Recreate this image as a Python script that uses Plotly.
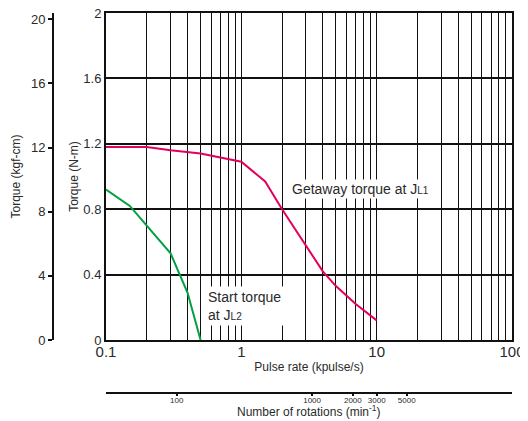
import math
import plotly.graph_objects as go

# Data
getaway_x = [0.1, 0.2, 0.3, 0.5, 1, 1.5, 2, 3, 4, 5, 7, 10]
getaway_y = [1.18, 1.18, 1.16, 1.14, 1.09, 0.97, 0.80, 0.58, 0.42, 0.33, 0.22, 0.12]
start_x = [0.1, 0.15, 0.2, 0.3, 0.4, 0.5]
start_y = [0.92, 0.82, 0.70, 0.53, 0.29, 0.0]

x_grid_vals = [m * 10 ** e for e in (-1, 0, 1) for m in range(1, 10)] + [100]
x_tick_labels = {0.1: "0.1", 1: "1", 10: "10", 100: "100"}
y_ticks = [0, 0.4, 0.8, 1.2, 1.6, 2]
kgf_ticks = [0, 4, 8, 12, 16, 20]
rpm_ticks = [100, 1000, 2000, 3000, 5000]

NM_TO_KGFCM = 10.197
RPM_PER_KPPS = 300

# page body has an 8px margin, so figure is sized to fit the visible window
OFF = 8
W, H = 528 - OFF, 421 - OFF
ML, MR, MT, MB = 0, 16, 13 - OFF, 0
plot_left, plot_bottom, rpm_line = 106 - OFF, 340 - OFF, 393 - OFF
pw = W - ML - MR
ph = H - MT - MB
x_dom0 = (plot_left - ML) / pw
y_dom0 = (H - MB - plot_bottom) / ph

font = "Liberation Sans, Arial, sans-serif"
tc = "#2a2a2a"

fig = go.Figure()
fig.add_trace(go.Scatter(x=getaway_x, y=getaway_y, mode="lines",
                         line=dict(color="#E3005C", width=2), hoverinfo="skip"))
fig.add_trace(go.Scatter(x=start_x, y=start_y, mode="lines",
                         line=dict(color="#00A040", width=2), hoverinfo="skip"))
# invisible trace to carry secondary axes
fig.add_trace(go.Scatter(x=[v * RPM_PER_KPPS for v in getaway_x],
                         y=[v * NM_TO_KGFCM for v in getaway_y],
                         xaxis="x2", yaxis="y2", mode="lines",
                         line=dict(color="rgba(0,0,0,0)", width=0), hoverinfo="skip"))

fig.update_layout(
    width=W, height=H, showlegend=False,
    margin=dict(l=ML, r=MR, t=MT, b=MB),
    paper_bgcolor="white", plot_bgcolor="white",
    font=dict(family=font, color=tc),
    xaxis=dict(type="log", range=[-1, 2], domain=[x_dom0, 1], automargin=False,
               tickvals=x_grid_vals,
               ticktext=[x_tick_labels.get(round(v, 4), "") for v in x_grid_vals],
               tickfont=dict(size=15), ticks="", ticklen=0, ticklabelstandoff=-3,
               ticklabeloverflow="allow",
               showgrid=True, gridcolor="#111", gridwidth=1,
               showline=True, linecolor="#111", linewidth=2, mirror=True,
               zeroline=False,
               title=dict(text="Pulse rate (kpulse/s)", font=dict(size=12), standoff=4)),
    yaxis=dict(range=[0, 2], domain=[y_dom0, 1], automargin=False, tickvals=y_ticks,
               ticktext=[("%g" % v) for v in y_ticks],
               tickfont=dict(size=13), ticks="", ticklabeloverflow="allow",
               showgrid=True, gridcolor="#111", gridwidth=2,
               showline=True, linecolor="#111", linewidth=2, mirror=True,
               zeroline=False,
               title=dict(text="Torque (N-m)", font=dict(size=12), standoff=2)),
    yaxis2=dict(range=[0, 2 * NM_TO_KGFCM], overlaying="y", anchor="free", automargin=False,
                position=(53 - OFF) / pw, side="left", tickvals=kgf_ticks,
                tickfont=dict(size=13), ticks="outside", ticklen=4, tickwidth=1.5,
                tickcolor="#111", ticklabeloverflow="allow",
                showgrid=False, zeroline=False,
                showline=True, linecolor="#111", linewidth=2,
                title=dict(text="Torque (kgf-cm)", font=dict(size=12), standoff=7)),
    xaxis2=dict(type="log", automargin=False,
                range=[math.log10(0.1 * RPM_PER_KPPS), math.log10(100 * RPM_PER_KPPS)],
                overlaying="x", anchor="free", position=(H - MB - rpm_line) / ph,
                side="bottom", tickvals=rpm_ticks,
                ticktext=[str(v) for v in rpm_ticks],
                tickfont=dict(size=8), ticks="outside", ticklen=2, tickwidth=1.5,
                ticklabelstandoff=-3, ticklabeloverflow="allow",
                tickcolor="#111",
                showgrid=False, zeroline=False,
                showline=True, linecolor="#111", linewidth=2),
    annotations=[
        dict(x=(x_dom0 + 1) / 2, y=(H - MB - (411 - OFF)) / ph, xref="paper", yref="paper",
             xanchor="center", yanchor="middle", showarrow=False,
             text="Number of rotations (min<sup>-1</sup>)", font=dict(size=12, color=tc)),
        dict(x=0.36, y=0.925, xref="x", yref="y", xanchor="left", yanchor="middle",
             text="Getaway torque at J<span style='font-size:10px'>L1</span>",
             showarrow=False, bgcolor="white", font=dict(size=14, color=tc),
             borderpad=1),
        dict(x=-0.27, y=0.205, xref="x", yref="y", xanchor="left", yanchor="middle",
             text="Start torque<br>at J<span style='font-size:10px'>L2</span>",
             showarrow=False, bgcolor="white", font=dict(size=14, color=tc),
             align="left", borderpad=2),
    ],
)

fig.write_html("out.html")
